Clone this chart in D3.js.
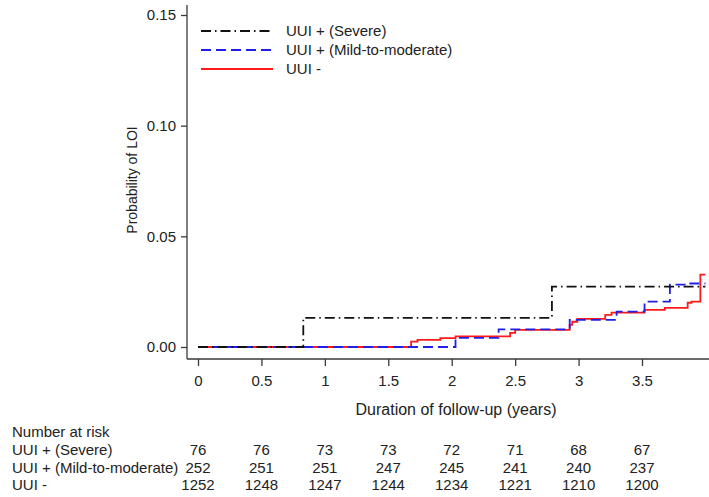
<!DOCTYPE html>
<html>
<head>
<meta charset="utf-8">
<script src="https://cdn.jsdelivr.net/npm/d3@7.9.0/dist/d3.min.js"></script>
<style>
  html, body { margin: 0; padding: 0; background: #fff; }
  svg { display: block; font-family: "Liberation Sans", Arial, sans-serif; }
</style>
</head>
<body>
<svg id="chart" width="709" height="497"></svg>
<script>
// ---- data ----
const groupNames = ["UUI + (Severe)", "UUI + (Mild-to-moderate)", "UUI -"];

// step points: [time in years, cumulative probability]
const severeSteps = [[0, 0], [0.83, 0.0132], [2.79, 0.0273], [4.0, 0.0273]];
const mildSteps = [[0, 0], [2.03, 0.0041], [2.37, 0.0080], [2.93, 0.0123],
  [3.30, 0.0160], [3.52, 0.0205], [3.72, 0.0282], [3.88, 0.0287], [4.0, 0.0287]];
const noneSteps = [[0, 0], [1.68, 0.0024], [1.73, 0.0032], [1.91, 0.0040],
  [2.03, 0.0048], [2.46, 0.0064], [2.50, 0.0077], [2.93, 0.0100], [2.95, 0.0114],
  [2.99, 0.0127], [3.21, 0.0145], [3.26, 0.0155], [3.52, 0.0168], [3.68, 0.0177],
  [3.86, 0.0200], [3.89, 0.0205], [3.96, 0.0327], [4.0, 0.0327]];

const xTicks = [0, 0.5, 1, 1.5, 2, 2.5, 3, 3.5];
const yTicks = [0, 0.05, 0.10, 0.15];

const riskSevere = [76, 76, 73, 73, 72, 71, 68, 67];
const riskMild = [252, 251, 251, 247, 245, 241, 240, 237];
const riskNone = [1252, 1248, 1247, 1244, 1234, 1221, 1210, 1200];

// ---- layout ----
const svg = d3.select("#chart");
const axisLeftX = 187, axisBottomY = 359, axisTopY = 5, axisRightX = 709;

const x = d3.scaleLinear().domain([0, 3.5]).range([198, 642]);
const y = d3.scaleLinear().domain([0, 0.15]).range([347, 15]);

const axisColor = "#3a3a3a";
const fontSize = 15;

// y axis
const gy = svg.append("g")
  .attr("transform", `translate(${axisLeftX},0)`)
  .call(d3.axisLeft(y).tickValues(yTicks).tickFormat(d3.format(".2f"))
    .tickSize(6).tickPadding(5));
gy.select(".domain").attr("d", `M0,${axisTopY}V${axisBottomY}`);

// x axis
const gx = svg.append("g")
  .attr("transform", `translate(0,${axisBottomY})`)
  .call(d3.axisBottom(x).tickValues(xTicks).tickFormat(d3.format("~g"))
    .tickSize(7).tickPadding(9));
gx.select(".domain").attr("d", `M${axisLeftX},0H${axisRightX}`);

svg.selectAll(".domain, .tick line")
  .attr("stroke", axisColor).attr("stroke-width", 1.3);
svg.selectAll(".tick text")
  .attr("fill", "#222").style("font-size", fontSize + "px")
  .style("font-family", "'Liberation Sans', Arial, sans-serif");

// axis titles
svg.append("text")
  .attr("x", 456).attr("y", 415)
  .attr("text-anchor", "middle")
  .style("font-size", "16px").attr("fill", "#222")
  .text("Duration of follow-up (years)");

svg.append("text")
  .attr("transform", "translate(137,180) rotate(-90)")
  .attr("text-anchor", "middle")
  .style("font-size", "14px").attr("fill", "#222")
  .text("Probability of LOI");

// ---- curves ----
const line = d3.line()
  .x(d => x(d[0]))
  .y(d => y(d[1]))
  .curve(d3.curveStepAfter);

const series = [
  { name: groupNames[2], steps: noneSteps, color: "#ff1a1a", dash: null },
  { name: groupNames[1], steps: mildSteps, color: "#1f1fe8", dash: "10,5" },
  { name: groupNames[0], steps: severeSteps, color: "#111", dash: "10,4,1.5,4" }
];

svg.append("g")
  .selectAll("path")
  .data(series)
  .join("path")
  .attr("fill", "none")
  .attr("stroke", d => d.color)
  .attr("stroke-width", 1.8)
  .attr("stroke-dasharray", d => d.dash)
  .attr("d", d => line(d.steps));

// ---- legend ----
const legendOrder = [series[2], series[1], series[0]];
const legend = svg.append("g")
  .selectAll("g")
  .data(legendOrder)
  .join("g")
  .attr("transform", (d, i) => `translate(0,${31 + i * 19})`);

legend.append("line")
  .attr("x1", 201).attr("x2", 273)
  .attr("stroke", d => d.color)
  .attr("stroke-width", 1.8)
  .attr("stroke-dasharray", d => d.dash);

legend.append("text")
  .attr("x", 286).attr("dy", "0.35em")
  .style("font-size", fontSize + "px").attr("fill", "#222")
  .text(d => d.name);

// ---- number at risk table ----
const table = svg.append("g").style("font-size", fontSize + "px").attr("fill", "#222");
table.append("text").attr("x", 12).attr("y", 437).text("Number at risk");

const riskRows = [riskSevere, riskMild, riskNone];
riskRows.forEach((row, i) => {
  const yy = 455 + i * 17.5;
  table.append("text").attr("x", 12).attr("y", yy).text(groupNames[i]);
  table.selectAll(null)
    .data(row)
    .join("text")
    .attr("x", (d, j) => x(xTicks[j]))
    .attr("y", yy)
    .attr("text-anchor", "middle")
    .text(d => d);
});
</script>
</body>
</html>
